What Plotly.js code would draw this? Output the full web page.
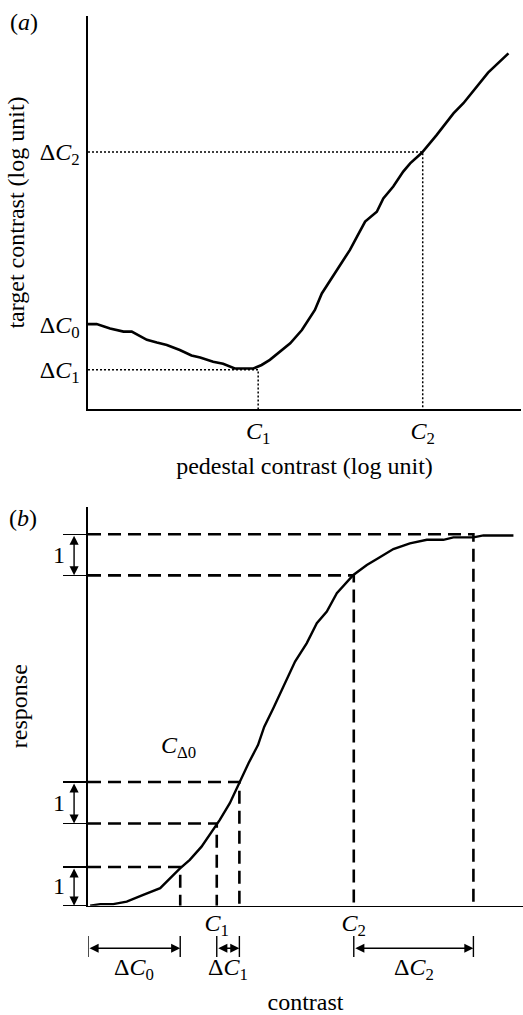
<!DOCTYPE html>
<html>
<head>
<meta charset="utf-8">
<script src="https://cdn.plot.ly/plotly-3.0.1.min.js"></script>
<style>html,body{margin:0;padding:0;background:#fff;}#chart{width:523px;height:1015px;}</style>
</head>
<body>
<div id="chart"></div>
<script>
// ---------- Panel (a): target contrast vs pedestal contrast (log units) ----------
const aPedestal = [0, 0.20, 0.51, 0.82, 1.01, 1.36, 1.59, 1.82, 2.12, 2.39, 2.59, 2.89, 3.12, 3.39, 3.82, 4.01, 4.20, 4.43, 4.67, 4.94, 5.24, 5.40, 5.63, 5.82, 6.05, 6.21, 6.40, 6.67, 6.82, 7.05, 7.28, 7.44, 7.71, 8.05, 8.44, 8.67, 8.98, 9.24, 9.71];
const aTarget   = [2.16, 2.16, 2.05, 1.97, 1.97, 1.76, 1.69, 1.63, 1.50, 1.36, 1.31, 1.20, 1.15, 1.03, 1.03, 1.12, 1.25, 1.46, 1.67, 2.01, 2.52, 2.94, 3.33, 3.66, 4.05, 4.38, 4.77, 5.02, 5.36, 5.66, 6.04, 6.25, 6.52, 6.97, 7.52, 7.78, 8.20, 8.56, 9.05];
const aXTickVals = [3.93, 7.73];            // C1, C2
const aXTickText = ['<i>C</i><sub>1</sub>', '<i>C</i><sub>2</sub>'];
const aYTickVals = [1.0, 2.16, 6.54];       // ΔC1, ΔC0, ΔC2
const aYTickText = ['Δ<i>C</i><sub>1</sub>', 'Δ<i>C</i><sub>0</sub>', 'Δ<i>C</i><sub>2</sub>'];

// ---------- Panel (b): response vs contrast ----------
const bContrast = [0.05, 0.28, 0.58, 0.89, 1.27, 1.66, 2.11, 2.34, 2.61, 2.88, 3.03, 3.26, 3.46, 3.69, 3.91, 4.05, 4.26, 4.53, 4.76, 5.03, 5.26, 5.49, 5.72, 6.10, 6.41, 6.67, 7.02, 7.40, 7.79, 8.17, 8.40, 8.86, 9.09, 9.78];
const bResponse = [0, 0.04, 0.04, 0.10, 0.27, 0.44, 0.93, 1.15, 1.48, 1.90, 2.15, 2.57, 3.03, 3.57, 4.03, 4.48, 4.95, 5.57, 6.12, 6.58, 7.08, 7.37, 7.83, 8.29, 8.54, 8.71, 8.94, 9.08, 9.17, 9.17, 9.23, 9.23, 9.28, 9.28];
// guide points: contrast levels and the response they give
const bGuideContrast = [2.12, 2.96, 3.48, 6.11, 8.86];   // ΔC0, C1, C1+ΔC1, C2, C2+ΔC2
const bGuideResponse = [0.97, 2.06, 3.10, 8.28, 9.31];
const bXTickVals = [2.96, 6.11];
const bXTickText = ['<i>C</i><sub>1</sub>', '<i>C</i><sub>2</sub>'];
// unit response steps (low, high)
const bSteps = [[0, 0.97], [2.06, 3.10], [8.28, 9.31]];
const bStepLabel = '1';
// contrast increments (from, to, label)
const bIncrements = [[0, 2.12, 'Δ<i>C</i><sub>0</sub>'], [2.96, 3.48, 'Δ<i>C</i><sub>1</sub>'], [6.11, 8.86, 'Δ<i>C</i><sub>2</sub>']];
const bThresholdLabel = {x: 2.09, y: 3.98, text: '<i>C</i><sub>Δ0</sub>'};

const FONT = '"Liberation Serif", "Times New Roman", Times, serif';
const FS = 24;
const TXT = {family: FONT, size: FS, color: '#000'};

const traces = [];
// panel (a) dotted guides
traces.push({x: [0, aXTickVals[0], aXTickVals[0]], y: [aYTickVals[0], aYTickVals[0], 0], xaxis: 'x', yaxis: 'y', mode: 'lines', line: {color: '#000', width: 1.5, dash: '2px,2px'}, hoverinfo: 'skip'});
traces.push({x: [0, aXTickVals[1], aXTickVals[1]], y: [aYTickVals[2], aYTickVals[2], 0], xaxis: 'x', yaxis: 'y', mode: 'lines', line: {color: '#000', width: 1.5, dash: '2px,2px'}, hoverinfo: 'skip'});
// panel (a) curve
traces.push({x: aPedestal, y: aTarget, xaxis: 'x', yaxis: 'y', mode: 'lines', line: {color: '#000', width: 2.6}});
// panel (b) dashed guides
for (let i = 0; i < bGuideContrast.length; i++) {
  traces.push({x: [0, bGuideContrast[i], bGuideContrast[i]], y: [bGuideResponse[i], bGuideResponse[i], 0], xaxis: 'x2', yaxis: 'y2', mode: 'lines', line: {color: '#000', width: 2.6, dash: '13px,7px'}, hoverinfo: 'skip'});
}
// panel (b) curve
traces.push({x: bContrast, y: bResponse, xaxis: 'x2', yaxis: 'y2', mode: 'lines', line: {color: '#000', width: 2.4}});

const annotations = [
  {xref: 'paper', yref: 'paper', x: 24 / 523, y: 1 - 22 / 1015, xanchor: 'center', yanchor: 'middle', text: '(<i>a</i>)', showarrow: false, font: TXT},
  {xref: 'paper', yref: 'paper', x: 23 / 523, y: 1 - 518 / 1015, xanchor: 'center', yanchor: 'middle', text: '(<i>b</i>)', showarrow: false, font: TXT},
  {xref: 'x2', yref: 'y2', x: bThresholdLabel.x, y: bThresholdLabel.y, xanchor: 'center', yanchor: 'middle', text: bThresholdLabel.text, showarrow: false, font: TXT}
];
bSteps.forEach(s => {
  annotations.push({xref: 'x2 domain', yref: 'y2', x: -0.032, y: s[0], axref: 'pixel', ax: 0, ayref: 'y2', ay: s[1], text: '', showarrow: true, arrowside: 'end+start', arrowhead: 2, startarrowhead: 2, arrowsize: 1.3, startarrowsize: 1.3, arrowwidth: 1.4, arrowcolor: '#000', standoff: 0, startstandoff: 0});
  annotations.push({xref: 'x2 domain', yref: 'y2', x: -0.067, y: (s[0] + s[1]) / 2, xanchor: 'center', yanchor: 'middle', text: bStepLabel, showarrow: false, font: TXT});
});
const shapes = [];
bIncrements.forEach(d => {
  annotations.push({xref: 'x2', yref: 'y2 domain', x: d[1], y: -0.1068, axref: 'x2', ax: d[0], ayref: 'pixel', ay: 0, text: '', showarrow: true, arrowside: 'end+start', arrowhead: 2, startarrowhead: 2, arrowsize: 1.3, startarrowsize: 1.3, arrowwidth: 1.4, arrowcolor: '#000', standoff: 0, startstandoff: 0});
  annotations.push({xref: 'x2', yref: 'y2 domain', x: (d[0] + d[1]) / 2, y: -0.158, xanchor: 'center', yanchor: 'middle', text: d[2], showarrow: false, font: TXT});
  [d[0], d[1]].forEach(v => shapes.push({type: 'line', xref: 'x2', yref: 'y2 domain', x0: v, x1: v, y0: -0.076, y1: -0.1286, line: {color: '#000', width: 1.4}}));
});

const axisCommon = {showgrid: false, zeroline: false, showline: true, linecolor: '#000', linewidth: 1.6, fixedrange: true, tickfont: TXT};
const layout = {
  width: 523, height: 1015,
  margin: {l: 0, r: 0, t: 0, b: 0},
  paper_bgcolor: '#fff', plot_bgcolor: '#fff',
  showlegend: false,
  font: TXT,
  xaxis: Object.assign({}, axisCommon, {domain: [88 / 523, 521 / 523], range: [0, 10], anchor: 'y', ticks: '', tickmode: 'array', tickvals: aXTickVals, ticktext: aXTickText, ticklabelstandoff: 0,
    title: {text: 'pedestal contrast (log unit)', font: TXT, standoff: 10}}),
  yaxis: Object.assign({}, axisCommon, {domain: [1 - 409 / 1015, 1 - 16 / 1015], range: [0, 10], anchor: 'x', ticks: '', tickmode: 'array', tickvals: aYTickVals, ticktext: aYTickText, ticklabelstandoff: 2,
    title: {text: 'target contrast (log unit)', font: TXT, standoff: 8}}),
  xaxis2: Object.assign({}, axisCommon, {domain: [88 / 523, 1], range: [0, 10], anchor: 'y2', ticks: '', tickmode: 'array', tickvals: bXTickVals, ticktext: bXTickText, ticklabelstandoff: -5,
    title: {text: 'contrast', font: TXT, standoff: 73}}),
  yaxis2: Object.assign({}, axisCommon, {domain: [1 - 905.7 / 1015, 1 - 506.7 / 1015], range: [0, 10], anchor: 'x2', ticks: 'outside', ticklen: 23, tickwidth: 1.4, tickcolor: '#000', tickmode: 'array', tickvals: [0].concat(bGuideResponse), showticklabels: false,
    title: {text: 'response', font: TXT, standoff: 29}}),
  annotations: annotations,
  shapes: shapes
};
Plotly.newPlot('chart', traces, layout, {staticPlot: true, displayModeBar: false});
</script>
</body>
</html>
